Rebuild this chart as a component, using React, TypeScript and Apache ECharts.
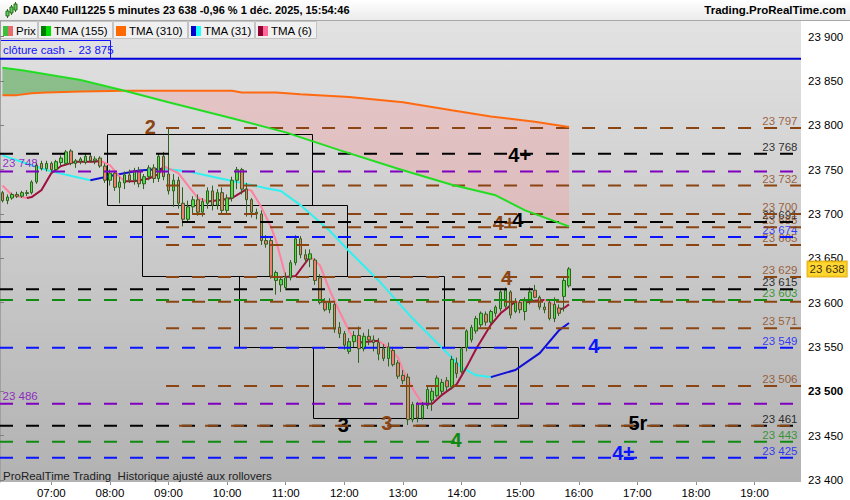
import { useEffect, useRef } from 'react';
import * as echarts from 'echarts';

const FONT = '"Liberation Sans", Arial, Helvetica, sans-serif';

// ---- time axis: 5-minute slots from 06:10 to 19:45 ----
const firstSlotMinute = 6 * 60 + 10;
const slotCount = 164;
const timeCategories: string[] = Array.from({ length: slotCount }, (_, i) => {
  const m = firstSlotMinute + 5 * i;
  return `${String(Math.floor(m / 60)).padStart(2, '0')}:${String(m % 60).padStart(2, '0')}`;
});

// ---- price axis ----
const yMin = 23397.7;
const yMax = 23917.6;
const yTicks = [23400, 23450, 23500, 23550, 23600, 23650, 23700, 23750, 23800, 23850, 23900];

// ---- candles (bars 0..116 = 06:10 .. 15:50) ----
const opens = [
  23724, 23715, 23718, 23722, 23720, 23723, 23724, 23736, 23757, 23751,
  23757, 23750, 23758, 23757, 23771, 23757, 23759, 23758, 23765, 23760,
  23763, 23754, 23738, 23746, 23730, 23735, 23744, 23738, 23749, 23734,
  23742, 23752, 23740, 23765, 23745, 23726, 23738, 23712, 23694, 23708,
  23716, 23702, 23712, 23726, 23710, 23724, 23704, 23718, 23738, 23750,
  23728, 23716, 23702, 23700, 23670, 23670, 23625, 23620, 23617, 23628,
  23645, 23672, 23654, 23649, 23648, 23628, 23600, 23592, 23598, 23572,
  23565, 23545, 23556, 23563, 23548, 23562, 23558, 23555, 23548, 23537,
  23546, 23532, 23518, 23516, 23468, 23485, 23470, 23484, 23490, 23495,
  23500, 23512, 23505, 23532, 23522, 23549, 23558, 23568, 23575, 23587,
  23578, 23588, 23593, 23596, 23612, 23590, 23600, 23590, 23602, 23614,
  23606, 23595, 23600, 23582, 23594, 23607, 23619,
];
const highs = [
  23726, 23722, 23724, 23725, 23726, 23727, 23738, 23758, 23760, 23760,
  23759, 23761, 23766, 23772, 23773, 23762, 23764, 23768, 23767, 23765,
  23765, 23757, 23750, 23748, 23742, 23748, 23750, 23752, 23753, 23745,
  23755, 23756, 23768, 23770, 23797, 23745, 23742, 23730, 23715, 23720,
  23722, 23718, 23730, 23732, 23728, 23730, 23722, 23742, 23753, 23752,
  23735, 23718, 23706, 23704, 23676, 23673, 23636, 23628, 23634, 23648,
  23676, 23675, 23660, 23660, 23650, 23632, 23605, 23605, 23600, 23578,
  23568, 23560, 23568, 23573, 23566, 23570, 23563, 23560, 23553, 23555,
  23550, 23535, 23524, 23520, 23488, 23488, 23488, 23505, 23504, 23518,
  23514, 23516, 23540, 23538, 23550, 23570, 23575, 23585, 23590, 23590,
  23592, 23597, 23614, 23617, 23614, 23605, 23603, 23606, 23617, 23620,
  23608, 23600, 23604, 23606, 23598, 23628, 23640,
];
const lows = [
  23713, 23711, 23716, 23718, 23718, 23720, 23722, 23734, 23749, 23748,
  23746, 23749, 23754, 23755, 23755, 23752, 23756, 23756, 23758, 23756,
  23752, 23735, 23732, 23726, 23712, 23728, 23735, 23733, 23730, 23728,
  23738, 23735, 23736, 23738, 23722, 23708, 23706, 23686, 23690, 23700,
  23698, 23697, 23706, 23704, 23705, 23700, 23700, 23714, 23728, 23722,
  23697, 23696, 23694, 23665, 23662, 23627, 23609, 23612, 23614, 23625,
  23642, 23650, 23645, 23640, 23620, 23598, 23590, 23588, 23566, 23560,
  23547, 23542, 23550, 23532, 23545, 23552, 23545, 23535, 23534, 23528,
  23528, 23514, 23508, 23462, 23465, 23465, 23468, 23480, 23478, 23493,
  23496, 23500, 23502, 23515, 23520, 23545, 23555, 23565, 23572, 23574,
  23576, 23584, 23590, 23594, 23582, 23588, 23588, 23580, 23598, 23605,
  23592, 23588, 23580, 23578, 23585, 23590, 23617,
];
const closes = [
  23715, 23719, 23722, 23720, 23724, 23724, 23736, 23755, 23751, 23757,
  23750, 23759, 23763, 23770, 23757, 23760, 23762, 23765, 23760, 23762,
  23754, 23738, 23746, 23730, 23736, 23744, 23738, 23749, 23734, 23742,
  23752, 23740, 23765, 23742, 23726, 23738, 23712, 23694, 23708, 23716,
  23702, 23714, 23726, 23710, 23724, 23704, 23718, 23738, 23750, 23728,
  23716, 23702, 23700, 23670, 23666, 23630, 23634, 23626, 23628, 23645,
  23672, 23654, 23649, 23655, 23625, 23600, 23592, 23600, 23570, 23565,
  23552, 23556, 23563, 23548, 23562, 23558, 23555, 23542, 23537, 23550,
  23530, 23517, 23512, 23468, 23485, 23470, 23484, 23502, 23500, 23515,
  23510, 23505, 23536, 23520, 23548, 23568, 23572, 23582, 23588, 23578,
  23590, 23595, 23612, 23614, 23586, 23600, 23592, 23602, 23612, 23606,
  23595, 23592, 23582, 23598, 23588, 23625, 23638,
];

// ---- moving averages, read at sample bars ----
const tma6Bars = [0, 2, 5, 6, 8, 10, 12, 15, 19, 20, 22, 24, 25, 27, 30, 32, 33, 36, 38, 40, 42, 45, 47, 50, 51, 53, 55, 56, 57, 58, 60, 63, 65, 67, 69, 71, 72, 73, 77, 79, 81, 82, 84, 86, 88, 90, 93, 95, 97, 100, 102, 105, 107, 109, 111, 112, 114, 115, 116];
const tma6Values = [23732, 23721, 23718, 23719, 23727, 23746, 23754, 23759, 23759, 23760, 23755, 23742, 23737, 23737, 23740, 23745, 23754, 23746, 23732, 23718, 23714, 23716, 23718, 23728, 23726, 23708, 23685, 23670, 23650, 23629, 23630, 23652, 23642, 23614, 23590, 23568, 23558, 23555, 23557, 23549, 23538, 23524, 23503, 23486, 23486, 23496, 23508, 23527, 23548, 23575, 23588, 23601, 23600, 23602, 23603, 23601, 23592, 23594, 23598];

const tma31Bars = [0, 6, 10, 18, 23, 28, 33, 38, 43, 49, 54, 57, 61, 67, 71, 77, 84, 90, 94, 97, 100, 105, 110, 114, 116];
const tma31Values = [23766, 23755, 23748, 23738, 23744, 23749, 23751, 23748, 23742, 23735, 23729, 23726, 23710, 23681, 23658, 23625, 23582, 23549, 23527, 23518, 23516, 23524, 23543, 23569, 23577];

const tma155Bars = [0, 4, 16, 25, 34, 47, 58, 69, 81, 92, 101, 107, 114, 116];
const tma155Values = [23865, 23862, 23851, 23839, 23826, 23808, 23792, 23772, 23751, 23733, 23721, 23704, 23690, 23686];

const tma310Bars = [0, 3, 6, 9, 16, 25, 47, 49, 56, 61, 71, 82, 92, 100, 109, 116];
const tma310Values = [23834, 23834, 23836, 23837, 23838, 23839, 23839, 23837, 23837, 23835, 23832, 23826, 23817, 23810, 23804, 23798];
const crossBar = 25;

// ---- horizontal levels ----
const levelValues = [23797, 23768, 23748, 23732, 23700, 23691, 23685, 23674, 23665, 23629, 23615, 23603, 23601, 23571, 23549, 23506, 23486, 23461, 23461, 23443, 23425];
const levelColors = ['brown', 'black', 'purple', 'brown', 'brown', 'black', 'brown', 'blue', 'brown', 'brown', 'black', 'green', 'brown', 'brown', 'blue', 'brown', 'purple', 'black', 'brown', 'green', 'blue'];
const levelStarts = [34, 0, 0, 34, 34, 0, 34, 0, 34, 34, 0, 0, 34, 34, 0, 34, 0, 0, 34, 0, 0];
const levelLabelSides = ['R', 'R', 'L', 'R', 'R', 'R', 'R', 'R', 'R', 'R', 'R', 'R', '', 'R', 'R', 'R', 'L', 'R', '', 'R', 'R'];
const cashClose = 23875;

// ---- rectangles (bar from, bar to, top price, bottom price) ----
const boxes = [
  [22, 64, 23790, 23710],
  [29, 71, 23710, 23630],
  [49, 91, 23630, 23550],
  [64, 106, 23550, 23470],
];

// ---- wave annotations ----
const noteTexts = ['2', '4+', '4+', '4', '4', '4', '3', '3', '4', '5r', '4±'];
const noteBars = [30.75, 106.4, 103.2, 106.0, 103.7, 121.6, 70.3, 79.2, 93.4, 130.6, 127.6];
const notePrices = [23798, 23767, 23690, 23693, 23628, 23551, 23462, 23464, 23445, 23464, 23430];
const noteColors = ['brown', 'black', 'brown', 'black', 'brown', 'blue', 'black', 'brown', 'green', 'black', 'blue'];

const PALETTE: Record<string, string> = {
  brown: '#8b4513',
  black: '#000000',
  purple: '#8000c0',
  blue: '#0a14ff',
  green: '#108a10',
};

function fmtPrice(v: number): string {
  const r = Math.round(v);
  return `${Math.floor(r / 1000)} ${String(r % 1000).padStart(3, '0')}`;
}

function colouredRuns(bars: number[], vals: number[], upColor: string, downColor: string) {
  const runs: any[] = [];
  let cur: number[][] = [];
  let curUp: boolean | null = null;
  for (let k = 0; k < bars.length - 1; k++) {
    const up = vals[k + 1] >= vals[k];
    if (curUp === null || up !== curUp) {
      if (cur.length) runs.push({ coords: cur, lineStyle: { color: curUp ? upColor : downColor } });
      cur = [[bars[k] + 0.5, vals[k]]];
      curUp = up;
    }
    cur.push([bars[k + 1] + 0.5, vals[k + 1]]);
  }
  if (cur.length) runs.push({ coords: cur, lineStyle: { color: curUp ? upColor : downColor } });
  return runs;
}

function buildOption() {
  const t155 = tma155Bars.map((b, i) => [b + 0.5, tma155Values[i]]);
  const t310 = tma310Bars.map((b, i) => [b + 0.5, tma310Values[i]]);
  const greenRegion = [
    ...t155.filter((p) => p[0] <= crossBar + 0.5),
    ...t310.filter((p) => p[0] <= crossBar + 0.5).reverse(),
  ];
  const pinkRegion = [
    ...t310.filter((p) => p[0] >= crossBar + 0.5),
    ...t155.filter((p) => p[0] >= crossBar + 0.5).reverse(),
  ];
  const fillRegions = [
    { pts: greenRegion, color: 'rgba(60,160,60,0.5)' },
    { pts: pinkRegion, color: 'rgba(240,165,165,0.42)' },
  ];

  const levelSeries = levelValues.map((v, i) => ({
    type: 'line',
    xAxisIndex: 1,
    yAxisIndex: 0,
    silent: true,
    symbol: 'none',
    animation: false,
    data: [[levelStarts[i], v], [slotCount, v]],
    lineStyle: {
      color: PALETTE[levelColors[i]],
      width: 2,
      type: [13, 13],
      dashOffset: levelColors[i] === 'brown' && v === 23461 ? 13 : 0,
    },
  }));

  const rightLabels = levelValues
    .map((v, i) => ({ v, i }))
    .filter((o) => levelLabelSides[o.i] === 'R')
    .map((o) => ({
      value: [slotCount, o.v],
      label: { color: PALETTE[levelColors[o.i]] },
    }));
  const leftLabels = levelValues
    .map((v, i) => ({ v, i }))
    .filter((o) => levelLabelSides[o.i] === 'L')
    .map((o) => ({
      value: [0, o.v],
      label: { color: PALETTE[levelColors[o.i]] },
    }));

  const lastClose = closes[closes.length - 1];

  const legendItems = [
    { x: 0, w: 37, text: 'Prix', c1: '#3cc03c', c2: '#e86a6a' },
    { x: 38, w: 74, text: 'TMA (155)', c1: '#007a00', c2: '#00e000' },
    { x: 113, w: 74, text: 'TMA (310)', c1: '#ff6a00', c2: '#ff6a00' },
    { x: 188, w: 66, text: 'TMA (31)', c1: '#0000d0', c2: '#20ffff' },
    { x: 255, w: 61, text: 'TMA (6)', c1: '#900030', c2: '#ff6a98' },
  ];

  const graphic: any[] = [
    {
      type: 'rect',
      shape: { x: 0, y: 0, width: 850, height: 20 },
      style: {
        fill: new echarts.graphic.LinearGradient(0, 0, 0, 1, [
          { offset: 0, color: '#ffffff' },
          { offset: 1, color: '#ebebeb' },
        ]),
      },
      silent: true,
    },
    { type: 'line', shape: { x1: 0, y1: 20.5, x2: 850, y2: 20.5 }, style: { stroke: '#a8a8a8', lineWidth: 1 } },
    // icon
    { type: 'line', shape: { x1: 7.5, y1: 9, x2: 7.5, y2: 18 }, style: { stroke: '#2d6b1e', lineWidth: 1 } },
    { type: 'rect', shape: { x: 6, y: 11, width: 3, height: 5 }, style: { fill: '#5ad05a', stroke: '#2d6b1e', lineWidth: 1 } },
    { type: 'line', shape: { x1: 11.5, y1: 5, x2: 11.5, y2: 15 }, style: { stroke: '#2d6b1e', lineWidth: 1 } },
    { type: 'rect', shape: { x: 10, y: 7, width: 3, height: 6 }, style: { fill: '#5ad05a', stroke: '#2d6b1e', lineWidth: 1 } },
    { type: 'line', shape: { x1: 15.5, y1: 2, x2: 15.5, y2: 12 }, style: { stroke: '#2d6b1e', lineWidth: 1 } },
    { type: 'rect', shape: { x: 14, y: 4, width: 3, height: 6 }, style: { fill: '#5ad05a', stroke: '#2d6b1e', lineWidth: 1 } },
    {
      type: 'text',
      x: 23,
      y: 10,
      style: {
        text: 'DAX40 Full1225 5 minutes 23 638 -0,96 % 1 déc. 2025, 15:54:46',
        font: `bold 11px ${FONT}`,
        fill: '#000',
        textVerticalAlign: 'middle',
      },
    },
    {
      type: 'text',
      x: 846,
      y: 10,
      style: {
        text: 'Trading.ProRealTime.com',
        font: `bold 11.5px ${FONT}`,
        fill: '#000',
        textAlign: 'right',
        textVerticalAlign: 'middle',
      },
    },
  ];
  legendItems.forEach((it) => {
    graphic.push({
      type: 'rect',
      shape: { x: it.x + 0.5, y: 21.5, width: it.w, height: 17 },
      style: { fill: '#f0f0f0', stroke: '#c4c4c4', lineWidth: 1 },
      silent: true,
    });
    graphic.push({ type: 'rect', shape: { x: it.x + 3, y: 26, width: 5, height: 10 }, style: { fill: it.c1 } });
    graphic.push({ type: 'rect', shape: { x: it.x + 8, y: 26, width: 5, height: 10 }, style: { fill: it.c2 } });
    graphic.push({
      type: 'text',
      x: it.x + 16,
      y: 31,
      style: { text: it.text, font: `11.5px ${FONT}`, fill: '#000', textVerticalAlign: 'middle' },
    });
  });
  graphic.push({
    type: 'rect',
    shape: { x: 0.5, y: 40.5, width: 110, height: 18 },
    style: { fill: '#e0e0e0', stroke: '#1010ff', lineWidth: 1 },
  });
  graphic.push({
    type: 'text',
    x: 3,
    y: 50,
    style: { text: `clôture cash -  ${fmtPrice(cashClose)}`, font: `11.5px ${FONT}`, fill: '#1010ff', textVerticalAlign: 'middle' },
  });
  graphic.push({
    type: 'text',
    x: 3,
    y: 476,
    style: { text: 'ProRealTime Trading  Historique ajusté aux rollovers', font: `11.5px ${FONT}`, fill: '#202020', textVerticalAlign: 'middle' },
  });

  const isHour = (_idx: number, val: string) => val.endsWith(':00');

  return {
    animation: false,
    backgroundColor: '#ffffff',
    grid: {
      left: 0,
      right: 49,
      top: 21,
      bottom: 18,
      show: true,
      borderWidth: 0,
      backgroundColor: new echarts.graphic.LinearGradient(0, 0, 0, 1, [
        { offset: 0, color: '#e2e2e2' },
        { offset: 1, color: '#b2b2b2' },
      ]),
    },
    xAxis: [
      {
        type: 'category',
        data: timeCategories,
        boundaryGap: true,
        axisLine: { show: false },
        axisTick: { show: true, interval: isHour, alignWithLabel: true, length: 3, lineStyle: { color: '#909090' } },
        axisLabel: { interval: isHour, color: '#000', fontSize: 11.5, fontFamily: FONT, margin: 5 },
        splitLine: { show: false },
      },
      { type: 'value', min: 0, max: slotCount, show: false },
    ],
    yAxis: {
      type: 'value',
      position: 'right',
      min: yMin,
      max: yMax,
      splitNumber: 10,
      axisLine: { show: true, lineStyle: { color: '#a0a0a0' } },
      axisTick: { show: true, length: 4, customValues: yTicks, lineStyle: { color: '#808080' } },
      axisLabel: {
        customValues: yTicks,
        margin: 7,
        color: '#000',
        fontSize: 11.5,
        fontFamily: FONT,
        formatter: (v: number) => (v === 23500 ? `{b|${fmtPrice(v)}}` : fmtPrice(v)),
        rich: { b: { fontWeight: 'bold', fontSize: 11.5, fontFamily: FONT, color: '#000' } },
      },
      splitLine: { show: false },
    },
    graphic,
    series: [
      {
        type: 'custom',
        xAxisIndex: 1,
        yAxisIndex: 0,
        silent: true,
        data: [[crossBar, 23839], [crossBar, 23839]],
        renderItem: (params: any, api: any) => {
          const r = fillRegions[params.dataIndex];
          return {
            type: 'polygon',
            shape: { points: r.pts.map((p) => api.coord(p)) },
            style: { fill: r.color },
          };
        },
      },
      ...levelSeries,
      {
        type: 'line',
        xAxisIndex: 1,
        yAxisIndex: 0,
        silent: true,
        symbol: 'none',
        data: [[0, cashClose], [slotCount, cashClose]],
        lineStyle: { color: '#0000d8', width: 2 },
      },
      {
        type: 'custom',
        xAxisIndex: 1,
        yAxisIndex: 0,
        silent: true,
        encode: { x: [0, 1], y: [2, 3] },
        data: boxes,
        renderItem: (_params: any, api: any) => {
          const p0 = api.coord([api.value(0), api.value(2)]);
          const p1 = api.coord([api.value(1), api.value(3)]);
          return {
            type: 'rect',
            shape: {
              x: Math.round(p0[0]) + 0.5,
              y: Math.round(p0[1]) + 0.5,
              width: Math.round(p1[0] - p0[0]),
              height: Math.round(p1[1] - p0[1]),
            },
            style: { fill: 'none', stroke: '#000', lineWidth: 1 },
          };
        },
      },
      {
        type: 'line',
        xAxisIndex: 1,
        yAxisIndex: 0,
        silent: true,
        symbol: 'none',
        data: t310,
        lineStyle: { color: '#ff6a10', width: 2 },
      },
      {
        type: 'line',
        xAxisIndex: 1,
        yAxisIndex: 0,
        silent: true,
        symbol: 'none',
        data: t155,
        lineStyle: { color: '#22dd22', width: 2 },
      },
      {
        type: 'candlestick',
        xAxisIndex: 0,
        yAxisIndex: 0,
        silent: true,
        barWidth: 3,
        data: opens.map((o, i) => [o, closes[i], lows[i], highs[i]]),
        itemStyle: {
          color: '#52dc4a',
          color0: '#f07c72',
          borderColor: '#2f621c',
          borderColor0: '#2f621c',
          borderWidth: 1,
        },
      },
      {
        type: 'lines',
        coordinateSystem: 'cartesian2d',
        xAxisIndex: 1,
        yAxisIndex: 0,
        polyline: true,
        silent: true,
        lineStyle: { width: 2, opacity: 1 },
        data: colouredRuns(tma31Bars, tma31Values, '#1010d8', '#30f0f0'),
      },
      {
        type: 'lines',
        coordinateSystem: 'cartesian2d',
        xAxisIndex: 1,
        yAxisIndex: 0,
        polyline: true,
        silent: true,
        lineStyle: { width: 2, opacity: 1 },
        data: colouredRuns(tma6Bars, tma6Values, '#a0103c', '#ff80a0'),
      },
      {
        type: 'scatter',
        xAxisIndex: 1,
        yAxisIndex: 0,
        silent: true,
        clip: false,
        symbolSize: 1,
        itemStyle: { color: 'rgba(0,0,0,0)' },
        data: rightLabels,
        label: {
          show: true,
          position: 'left',
          distance: 3,
          offset: [0, -7],
          fontSize: 11.5,
          fontFamily: FONT,
          textBorderWidth: 0,
          formatter: (p: any) => fmtPrice(p.value[1]),
        },
      },
      {
        type: 'scatter',
        xAxisIndex: 1,
        yAxisIndex: 0,
        silent: true,
        clip: false,
        symbolSize: 1,
        itemStyle: { color: 'rgba(0,0,0,0)' },
        data: leftLabels,
        label: {
          show: true,
          position: 'right',
          distance: 2,
          offset: [0, -8],
          fontSize: 11.5,
          fontFamily: FONT,
          textBorderWidth: 0,
          formatter: (p: any) => fmtPrice(p.value[1]),
        },
      },
      {
        type: 'scatter',
        xAxisIndex: 1,
        yAxisIndex: 0,
        silent: true,
        symbolSize: 1,
        itemStyle: { color: 'rgba(0,0,0,0)' },
        data: noteTexts.map((t, i) => ({
          value: [noteBars[i], notePrices[i]],
          label: { formatter: t, color: PALETTE[noteColors[i]] },
        })),
        label: {
          show: true,
          position: 'inside',
          fontSize: 20,
          fontWeight: 'bold',
          fontFamily: FONT,
          textBorderWidth: 0,
          textBorderColor: 'transparent',
          opacity: 1,
        },
      },
      {
        type: 'scatter',
        xAxisIndex: 1,
        yAxisIndex: 0,
        silent: true,
        clip: false,
        symbolSize: 1,
        itemStyle: { color: 'rgba(0,0,0,0)' },
        data: [[slotCount, lastClose]],
        label: {
          show: true,
          position: 'right',
          distance: 6,
          formatter: () => fmtPrice(lastClose),
          fontSize: 11.5,
          fontFamily: FONT,
          color: '#000',
          backgroundColor: '#ffcc00',
          borderColor: '#d8a000',
          borderWidth: 1,
          padding: [2, 2, 1, 2],
        },
      },
    ],
  };
}

export default function App() {
  const ref = useRef<HTMLDivElement>(null);
  useEffect(() => {
    document.body.style.margin = '0';
    const chart = echarts.init(ref.current!, undefined, { renderer: 'svg' });
    chart.setOption(buildOption() as any);
    return () => chart.dispose();
  }, []);
  return <div ref={ref} style={{ width: 850, height: 500 }} />;
}
